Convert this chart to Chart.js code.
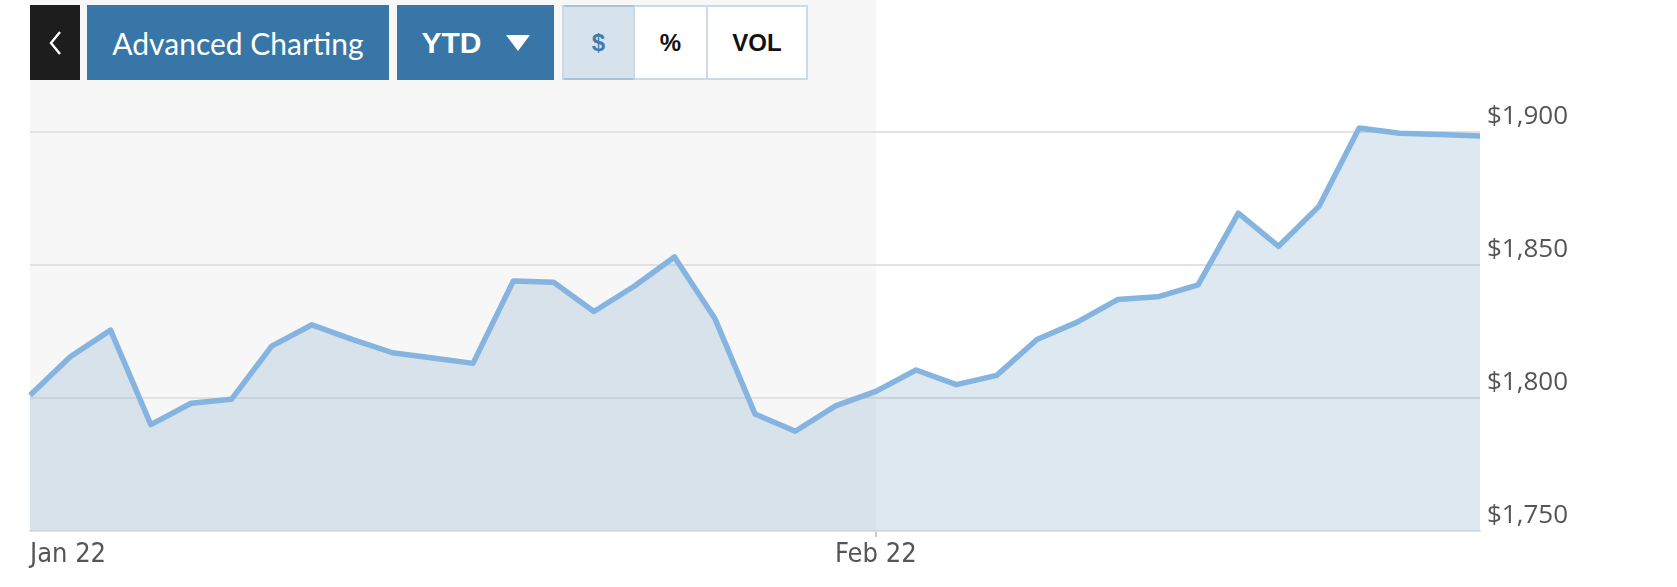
<!DOCTYPE html>
<html>
<head>
<meta charset="utf-8">
<script src="https://cdn.jsdelivr.net/npm/chart.js@4/dist/chart.umd.min.js"></script>
<style>
  html, body { margin: 0; padding: 0; background: #fff; }
  #wrap { position: relative; width: 1677px; height: 587px; overflow: hidden; }
  #chart { position: absolute; left: 0; top: 0; }
  .btn { position: absolute; top: 5px; height: 75px; box-sizing: border-box; color: #fff;
         display: flex; align-items: center; justify-content: center; }
  #back { left: 30px; width: 50px; background: #1d1d1d; }
  #adv { left: 87px; width: 302px; background: #3876a8; font: 30px Lato, sans-serif; }
  #ytd { left: 397px; width: 157px; background: #3876a8; font: bold 30px "Liberation Sans", Arial, sans-serif; }
  #ytd svg { margin-left: 24px; }
  #seg { position: absolute; left: 562px; top: 5px; width: 246px; height: 75px; box-sizing: border-box;
         border: 2px solid #ccdae6; background: #fff; display: flex; }
  #seg div { display: flex; align-items: center; justify-content: center; box-sizing: border-box;
             font: bold 24px "Liberation Sans", Arial, sans-serif; color: #111; }
  #seg .on { width: 71px; background: #d6e2ec; color: #3f7bb0; border-top: 2px solid #a9c2d7; border-bottom: 2px solid #a9c2d7;
             border-right: 2px solid #ccdae6; margin-top: -2px; margin-bottom: -2px; height: 75px; }
  #seg .pct { width: 73px; border-right: 2px solid #ccdae6; }
  #seg .vol { flex: 1; }
</style>
</head>
<body>
<div id="wrap">
  <canvas id="chart" width="1677" height="587"></canvas>
  <div class="btn" id="back"><svg width="13" height="24" viewBox="0 0 13 24"><polyline points="11,1 2,12 11,23" fill="none" stroke="#fff" stroke-width="2.4"/></svg></div>
  <div class="btn" id="adv">Advanced Charting</div>
  <div class="btn" id="ytd">YTD<svg width="24" height="16" viewBox="0 0 24 16"><polygon points="0,0 24,0 12,16" fill="#fff"/></svg></div>
  <div id="seg"><div class="on">$</div><div class="pct">%</div><div class="vol">VOL</div></div>
</div>
<script>
const dates = [
  '2022-01-03', '2022-01-04', '2022-01-05', '2022-01-06', '2022-01-07',
  '2022-01-10', '2022-01-11', '2022-01-12', '2022-01-13', '2022-01-14',
  '2022-01-17', '2022-01-18', '2022-01-19', '2022-01-20', '2022-01-21',
  '2022-01-24', '2022-01-25', '2022-01-26', '2022-01-27', '2022-01-28',
  '2022-01-31', '2022-02-01', '2022-02-02', '2022-02-03', '2022-02-04',
  '2022-02-07', '2022-02-08', '2022-02-09', '2022-02-10', '2022-02-11',
  '2022-02-14', '2022-02-15', '2022-02-16', '2022-02-17', '2022-02-18',
  '2022-02-21', '2022-02-22'
];
const prices = [
  1801, 1815.5, 1825.5, 1790, 1798,
  1799.5, 1819.5, 1827.5, 1822, 1817,
  1815, 1813, 1844, 1843.5, 1832.5,
  1842, 1853, 1830, 1794, 1787.5,
  1797, 1802.5, 1810.5, 1805, 1808.5,
  1822, 1828.5, 1837, 1838, 1842.5,
  1869.5, 1857, 1872, 1901.5, 1899.5,
  1899, 1898.5
];
const monthLabels = ['Jan 22', 'Feb 22'];
const yTicks = [1750, 1800, 1850, 1900];

// index of the first trading day of each month
const monthStarts = dates.map((d, i) => (i === 0 || d.slice(5, 7) !== dates[i - 1].slice(5, 7)) ? i : -1).filter(i => i >= 0);
const febStart = monthStarts[1];

const shadePlugin = {
  id: 'shade',
  beforeDraw(chart) {
    const { ctx, chartArea, scales } = chart;
    const xEnd = scales.x.getPixelForValue(febStart);
    ctx.save();
    ctx.fillStyle = '#f7f7f7';
    ctx.fillRect(chartArea.left, 0, xEnd - chartArea.left, chartArea.bottom);
    ctx.restore();
  }
};

new Chart(document.getElementById('chart'), {
  type: 'line',
  data: {
    labels: dates,
    datasets: [{
      data: prices,
      borderColor: '#85b4e0',
      borderWidth: 5.5,
      borderJoinStyle: 'round',
      backgroundColor: 'rgba(120, 165, 195, 0.25)',
      fill: 'start',
      pointRadius: 0,
      tension: 0
    }]
  },
  options: {
    responsive: false,
    animation: false,
    layout: { padding: { left: 30, top: 92, right: 0, bottom: 0 } },
    plugins: { legend: { display: false }, tooltip: { enabled: false } },
    scales: {
      x: {
        afterFit: (scale) => { scale.height = 56; },
        border: { display: true, color: '#e4e4e4', width: 2 },
        grid: {
          drawOnChartArea: false,
          tickLength: 6,
          lineWidth: 2,
          color: (c) => c.index === febStart ? '#c9c9c9' : 'rgba(0,0,0,0)'
        },
        ticks: {
          autoSkip: false,
          maxRotation: 0,
          align: 'inner',
          padding: 2,
          color: '#555',
          font: { family: "'DejaVu Sans Condensed', 'DejaVu Sans', sans-serif", size: 27 },
          callback: (val, i) => {
            const k = monthStarts.indexOf(i);
            return k >= 0 ? monthLabels[k] : '';
          }
        }
      },
      y: {
        position: 'right',
        min: yTicks[0],
        max: 1915,
        afterFit: (scale) => { scale.width = 197; },
        afterBuildTicks: (scale) => { scale.ticks = yTicks.map(v => ({ value: v })); },
        border: { display: false },
        grid: { color: '#e2e2e2', lineWidth: 2, drawTicks: false },
        ticks: {
          padding: 7,
          labelOffset: -15,
          color: '#555',
          font: { family: "'Open Sans', sans-serif", size: 26 },
          callback: (v) => '$' + v.toLocaleString('en-US')
        }
      }
    }
  },
  plugins: [shadePlugin]
});
</script>
</body>
</html>
